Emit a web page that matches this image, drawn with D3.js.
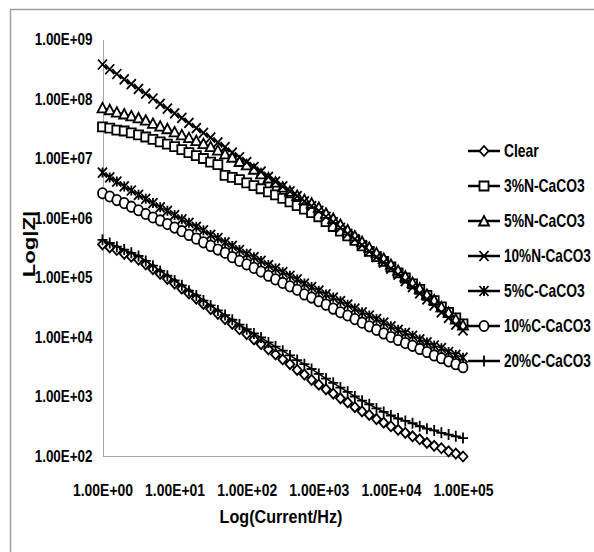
<!DOCTYPE html>
<html lang="en">
<head>
    <meta charset="utf-8">
    <title>Log|Z| vs frequency</title>
    <style>
        body { margin: 0; background: #fff; }
        svg text {
            font-family: "Liberation Sans", Arial, sans-serif;
            font-weight: bold;
            fill: #000;
        }
        .axis path { stroke: #a6a6a6; stroke-width: 1px; shape-rendering: crispEdges; }
        .axis line { display: none; }
        .axis text { font-size: 17px; }
        .frame { stroke: #a0a0a0; stroke-width: 1.5px; fill: none; }
        .line { fill: none; stroke: #000; stroke-width: 1.5px; }
        .marker { stroke: #000; stroke-width: 1.8px; fill: #fff; }
    </style>
</head>
<body>
<svg width="594" height="552"></svg>
<script src="https://cdn.jsdelivr.net/npm/d3@7"></script>
<script>
    // frequency points (Hz), 10 per decade
    const freq = [1, 1.26, 1.58, 2, 2.51, 3.16, 3.98, 5.01, 6.31, 7.94,
        10, 12.6, 15.8, 20, 25.1, 31.6, 39.8, 50.1, 63.1, 79.4,
        100, 126, 158, 200, 251, 316, 398, 501, 631, 794,
        1000, 1259, 1585, 1995, 2512, 3162, 3981, 5012, 6310, 7943,
        10000, 12589, 15849, 19953, 25119, 31623, 39811, 50119, 63096, 79433, 100000];

    // |Z| values
    const zClear = [3.6e5, 3.2e5, 2.9e5, 2.5e5, 2.24e5, 2.0e5, 1.66e5, 1.38e5, 1.15e5, 9.5e4,
        7.9e4, 6.5e4, 5.4e4, 4.4e4, 3.6e4, 2.95e4, 2.45e4, 2.0e4, 1.66e4, 1.35e4,
        1.12e4, 9.1e3, 7.6e3, 6.2e3, 5.1e3, 4.2e3, 3.5e3, 2.8e3, 2.34e3, 1.9e3,
        1.58e3, 1.32e3, 1.12e3, 933, 794, 661, 562, 490, 417, 363,
        316, 275, 245, 214, 191, 166, 148, 135, 120, 110, 98];
    const z3N = [3.4e7, 3.24e7, 3.0e7, 2.9e7, 2.7e7, 2.5e7, 2.3e7, 2.1e7, 1.9e7, 1.74e7,
        1.58e7, 1.41e7, 1.26e7, 1.12e7, 1.0e7, 8.7e6, 7.9e6, 5.2e6, 4.8e6, 4.4e6,
        3.9e6, 3.5e6, 3.1e6, 2.75e6, 2.45e6, 2.14e6, 1.86e6, 1.62e6, 1.41e6, 1.23e6,
        1.05e6, 8.7e5, 7.2e5, 6.0e5, 5.0e5, 4.2e5, 3.4e5, 2.75e5, 2.24e5, 1.86e5,
        1.51e5, 1.2e5, 9.8e4, 7.8e4, 6.3e4, 5.0e4, 4.1e4, 3.2e4, 2.6e4, 2.1e4, 1.66e4];
    const z5N = [7.1e7, 6.6e7, 6.0e7, 5.6e7, 5.2e7, 4.8e7, 4.4e7, 3.9e7, 3.5e7, 3.16e7,
        2.8e7, 2.5e7, 2.24e7, 2.0e7, 1.78e7, 1.58e7, 1.38e7, 1.2e7, 1.05e7, 8.9e6,
        7.8e6, 6.6e6, 5.5e6, 4.7e6, 4.0e6, 3.3e6, 2.8e6, 2.4e6, 2.04e6, 1.78e6,
        1.51e6, 1.2e6, 9.8e5, 7.8e5, 6.3e5, 5.0e5, 4.0e5, 3.2e5, 2.6e5, 2.1e5,
        1.66e5, 1.32e5, 1.05e5, 8.3e4, 6.6e4, 5.2e4, 4.2e4, 3.2e4, 2.6e4, 2.0e4, 1.58e4];
    const z10N = [3.8e8, 3.16e8, 2.63e8, 2.14e8, 1.78e8, 1.48e8, 1.23e8, 1.02e8, 8.3e7, 6.9e7,
        5.75e7, 4.8e7, 3.98e7, 3.24e7, 2.69e7, 2.24e7, 1.86e7, 1.55e7, 1.26e7, 1.05e7,
        8.7e6, 7.2e6, 6.0e6, 4.9e6, 4.1e6, 3.4e6, 2.8e6, 2.34e6, 1.9e6, 1.58e6,
        1.32e6, 1.05e6, 8.5e5, 6.8e5, 5.4e5, 4.4e5, 3.5e5, 2.75e5, 2.2e5, 1.78e5,
        1.41e5, 1.12e5, 8.7e4, 6.9e4, 5.4e4, 4.3e4, 3.4e4, 2.6e4, 2.1e4, 1.62e4, 1.29e4];
    const z5C = [5.8e6, 4.8e6, 4.1e6, 3.4e6, 2.9e6, 2.45e6, 2.1e6, 1.78e6, 1.51e6, 1.32e6,
        1.12e6, 9.5e5, 8.3e5, 7.1e5, 6.2e5, 5.2e5, 4.6e5, 3.9e5, 3.4e5, 2.9e5,
        2.5e5, 2.2e5, 1.9e5, 1.62e5, 1.41e5, 1.23e5, 1.07e5, 9.3e4, 7.9e4, 6.9e4,
        6.0e4, 5.2e4, 4.6e4, 4.0e4, 3.5e4, 3.0e4, 2.6e4, 2.3e4, 2.0e4, 1.74e4,
        1.51e4, 1.32e4, 1.17e4, 1.05e4, 9.1e3, 8.1e3, 7.2e3, 6.5e3, 5.6e3, 5.0e3, 4.5e3];
    const z10C = [2.6e6, 2.3e6, 2.0e6, 1.78e6, 1.55e6, 1.35e6, 1.17e6, 1.02e6, 9.1e5, 7.9e5,
        6.9e5, 6.0e5, 5.2e5, 4.5e5, 3.9e5, 3.4e5, 2.95e5, 2.6e5, 2.2e5, 1.9e5,
        1.66e5, 1.45e5, 1.26e5, 1.07e5, 9.3e4, 8.1e4, 7.1e4, 6.2e4, 5.2e4, 4.6e4,
        4.0e4, 3.5e4, 3.0e4, 2.6e4, 2.3e4, 2.0e4, 1.74e4, 1.51e4, 1.32e4, 1.15e4,
        1.0e4, 8.9e3, 7.9e3, 7.1e3, 6.3e3, 5.6e3, 4.9e3, 4.4e3, 3.9e3, 3.5e3, 3.1e3];
    const z20C = [4.3e5, 3.8e5, 3.3e5, 2.95e5, 2.6e5, 2.3e5, 1.9e5, 1.58e5, 1.29e5, 1.07e5,
        8.9e4, 7.4e4, 6.0e4, 5.0e4, 4.1e4, 3.4e4, 2.8e4, 2.34e4, 1.95e4, 1.62e4,
        1.35e4, 1.15e4, 9.8e3, 8.1e3, 6.9e3, 5.9e3, 4.9e3, 4.1e3, 3.5e3, 2.9e3,
        2.4e3, 2.0e3, 1.7e3, 1.41e3, 1.2e3, 1.0e3, 851, 741, 631, 550,
        479, 427, 389, 355, 316, 288, 269, 245, 229, 214, 200];

    const seriesNames = ["Clear", "3%N-CaCO3", "5%N-CaCO3", "10%N-CaCO3", "5%C-CaCO3", "10%C-CaCO3", "20%C-CaCO3"];
    const seriesValues = [zClear, z3N, z5N, z10N, z5C, z10C, z20C];

    const xTicks = [1, 10, 100, 1000, 10000, 100000];
    const xTickLabels = ["1.00E+00", "1.00E+01", "1.00E+02", "1.00E+03", "1.00E+04", "1.00E+05"];
    const yTicks = [1e2, 1e3, 1e4, 1e5, 1e6, 1e7, 1e8, 1e9];
    const yTickLabels = ["1.00E+02", "1.00E+03", "1.00E+04", "1.00E+05", "1.00E+06", "1.00E+07", "1.00E+08", "1.00E+09"];

    // marker shapes, one per series
    const markers = [
        "M0,-5L4.5,0L0,5L-4.5,0Z",                          // diamond
        "M-4.5,-4.5H4.5V4.5H-4.5Z",                         // square
        "M0,-5L5,4.5L-5,4.5Z",                              // triangle
        "M-4.5,-5L4.5,5M4.5,-5L-4.5,5",                     // x
        "M-4.5,-5L4.5,5M4.5,-5L-4.5,5M0,-5V5",              // star
        "M-4.5,0A4.5,5.2 0 1,0 4.5,0A4.5,5.2 0 1,0 -4.5,0Z", // circle
        "M-5,0H5M0,-5.5V5.5"                                // plus
    ];

    const margin = {top: 39.5, right: 131, bottom: 96, left: 102.5},
        width = 594 - margin.left - margin.right,
        height = 552 - margin.top - margin.bottom;

    const svg = d3.select("svg");

    // narrow the text horizontally around its anchor (no condensed font installed)
    function narrow(sel, k) {
        sel.each(function () {
            const x0 = +this.getAttribute("x") || 0;
            const t = this.getAttribute("transform") || "";
            d3.select(this).attr("transform",
                t + " translate(" + x0 + ",0) scale(" + k + ",1) translate(" + (-x0) + ",0)");
        });
    }

    // outer chart frame (only left and top edges are inside the picture)
    svg.append("path")
        .attr("class", "frame")
        .attr("d", "M10.5,552V9.5H594");

    const g = svg.append("g")
        .attr("transform", "translate(" + margin.left + "," + margin.top + ")");

    const x = d3.scaleLog().domain([1, 1e5]).range([0, width]);
    const y = d3.scaleLog().domain([1e2, 1e9]).range([height, 0]);

    // axes
    const xAxis = g.append("g")
        .attr("class", "axis")
        .attr("transform", "translate(0," + height + ")")
        .call(d3.axisBottom(x).tickValues(xTicks).tickSize(0).tickPadding(28)
            .tickFormat((d, i) => xTickLabels[i]));

    const yAxis = g.append("g")
        .attr("class", "axis")
        .call(d3.axisLeft(y).tickValues(yTicks).tickSize(0).tickPadding(10)
            .tickFormat((d, i) => yTickLabels[i]));

    narrow(xAxis.selectAll("text"), 0.82);
    narrow(yAxis.selectAll("text"), 0.79);

    // axis titles
    svg.append("text")
        .attr("x", 281).attr("y", 523)
        .attr("text-anchor", "middle")
        .style("font-size", "19px")
        .text("Log(Current/Hz)")
        .call(narrow, 0.85);

    svg.append("text")
        .attr("transform", "translate(35,244) rotate(-90)")
        .attr("text-anchor", "middle")
        .style("font-size", "17px")
        .text("Log|Z|")
        .call(narrow, 1.3);

    const line = d3.line()
        .x(d => x(d[0]))
        .y(d => y(d[1]));

    // series, drawn in legend order
    seriesValues.forEach((vals, k) => {
        const pts = freq.map((f, i) => [f, vals[i]]);
        g.append("path")
            .datum(pts)
            .attr("class", "line")
            .attr("d", line);
        g.append("g")
            .selectAll("path")
            .data(pts)
            .enter()
            .append("path")
            .attr("class", "marker")
            .attr("transform", d => "translate(" + x(d[0]) + "," + y(d[1]) + ")")
            .attr("d", markers[k]);
    });

    // legend
    const legend = svg.append("g")
        .attr("transform", "translate(468,151)");

    const item = legend.selectAll("g")
        .data(seriesNames)
        .enter()
        .append("g")
        .attr("transform", (d, i) => "translate(0," + (i * 35) + ")");

    item.append("line")
        .attr("x1", 0).attr("x2", 32)
        .attr("stroke", "#000")
        .attr("stroke-width", 2.5);

    item.append("path")
        .attr("class", "marker")
        .attr("transform", "translate(16,0)")
        .attr("d", (d, i) => markers[i]);

    item.append("text")
        .attr("x", 36)
        .attr("dy", "0.36em")
        .style("font-size", "18px")
        .text(d => d)
        .each(function () {
            // fit the longest names inside the right edge
            const w = this.getComputedTextLength();
            d3.select(this).call(narrow, Math.min(0.77, 87 / w));
        });
</script>
</body>
</html>
